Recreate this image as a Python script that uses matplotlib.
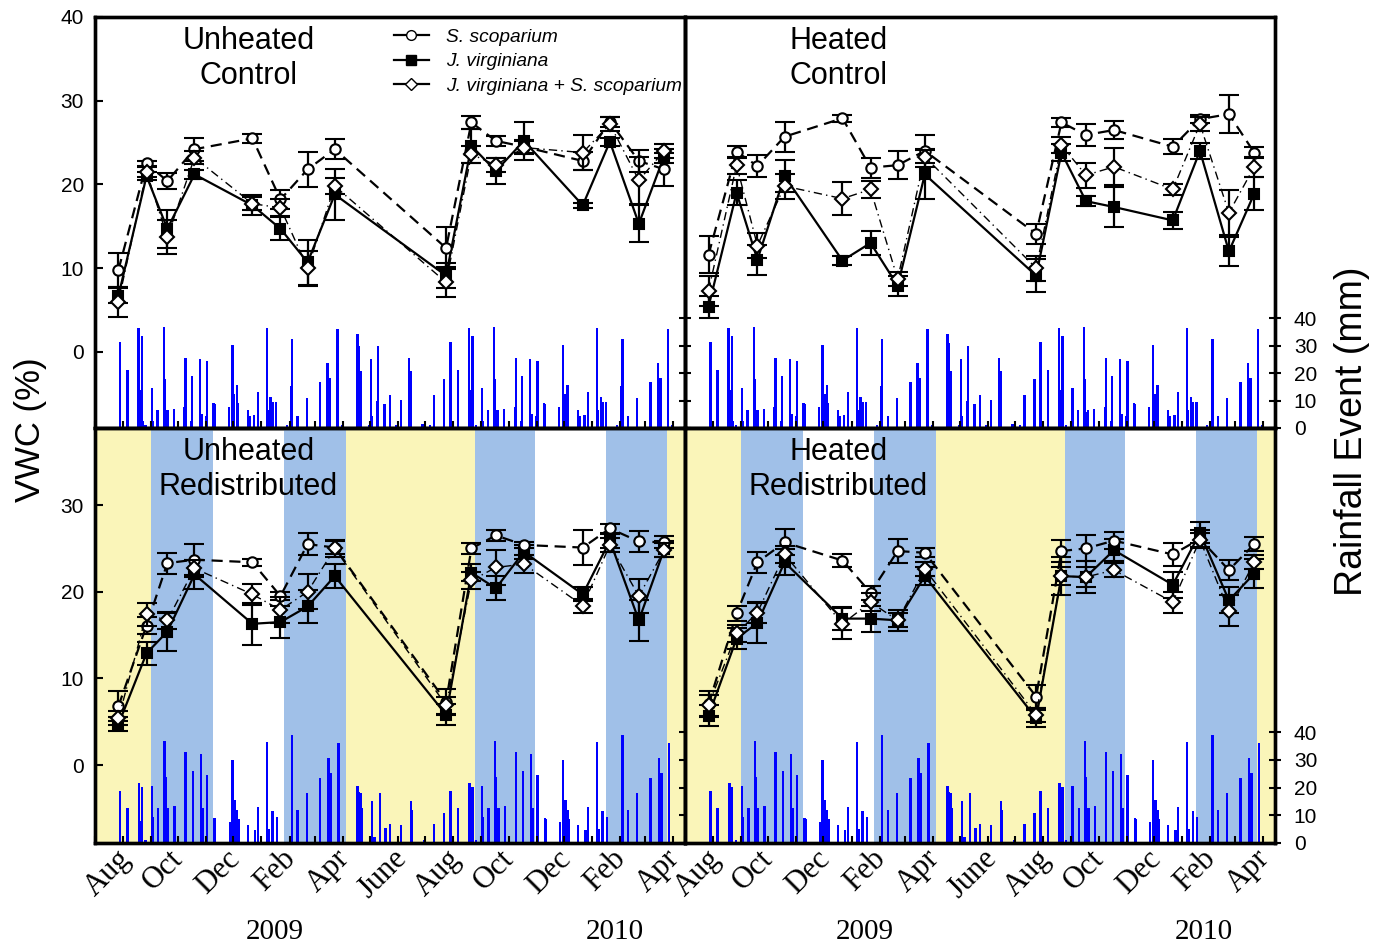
import numpy as np
import matplotlib.pyplot as plt
import matplotlib.dates as mdates
import matplotlib.transforms as mtransforms
from matplotlib.lines import Line2D
from matplotlib.ticker import FuncFormatter

plt.rcParams['font.family'] = ['Liberation Sans', 'DejaVu Sans']

# sampling dates (VWC measurements)
sample_dates = np.array(['2008-07-27', '2008-08-27', '2008-09-19', '2008-10-19', '2008-12-22',
                         '2009-01-22', '2009-02-21', '2009-03-23', '2009-07-24', '2009-08-21',
                         '2009-09-17', '2009-10-18', '2009-12-22', '2010-01-21', '2010-02-22',
                         '2010-03-22'], dtype='datetime64[D]')

# unheated control
uc_ss = [9.8, 22.5, 20.4, 24.2, 25.5, 18.2, 21.8, 24.2, 12.4, 27.4, 25.2, 24.5, 22.8, 27.5, 22.8, 21.8]
uc_ss_se = [2.0, 0.3, 1.0, 1.4, 0.5, 1.1, 2.1, 1.2, 2.5, 0.8, 0.6, 0.8, 1.1, 0.6, 1.3, 2.0]
uc_jv = [6.7, 21.0, 14.7, 21.2, 17.5, 14.7, 10.7, 18.8, 9.1, 24.6, 21.6, 25.2, 17.5, 25.1, 15.3, 23.4]
uc_jv_se = [0.9, 0.5, 2.3, 0.5, 1.2, 1.4, 2.7, 3.1, 1.5, 2.0, 1.6, 2.3, 0.3, 0.5, 2.2, 0.8]
uc_mix = [6.0, 21.5, 13.7, 23.2, 17.7, 17.2, 10.0, 19.8, 8.3, 23.6, 22.3, 24.4, 23.8, 27.2, 20.5, 24.0]
uc_mix_se = [1.8, 0.6, 2.0, 0.8, 0.8, 1.0, 2.1, 1.0, 1.8, 1.0, 0.8, 0.8, 2.1, 0.8, 2.8, 0.8]

# heated control
hc_ss = [11.6, 23.9, 22.2, 25.7, 27.9, 22.0, 22.3, 24.0, 14.1, 27.4, 25.9, 26.5, 24.5, 27.8, 28.4, 23.8]
hc_ss_se = [2.2, 0.7, 1.3, 1.8, 0.4, 1.2, 1.7, 1.9, 1.2, 0.5, 1.3, 1.1, 0.9, 0.5, 2.3, 0.7]
hc_jv = [5.4, 19.0, 11.0, 21.0, 10.9, 13.0, 7.9, 21.2, 9.1, 23.8, 18.0, 17.3, 15.7, 24.0, 12.0, 18.9]
hc_jv_se = [1.3, 1.5, 1.8, 1.9, 0.5, 1.4, 1.2, 3.0, 2.0, 1.0, 0.6, 2.4, 1.0, 1.0, 1.7, 2.0]
hc_mix = [7.3, 22.3, 12.7, 19.8, 18.3, 19.4, 8.7, 23.3, 10.0, 24.7, 21.1, 22.1, 19.4, 27.2, 16.6, 22.1]
hc_mix_se = [1.8, 1.0, 1.5, 1.5, 2.0, 1.0, 0.8, 0.8, 1.5, 1.0, 1.5, 2.2, 0.7, 0.8, 2.7, 1.2]

# unheated redistributed
ur_ss = [6.8, 16.1, 23.3, 23.7, 23.4, 19.5, 25.5, 25.1, 7.3, 25.0, 26.5, 25.4, 25.1, 27.3, 25.8, 25.7]
ur_ss_se = [1.7, 1.0, 1.2, 1.8, 0.4, 0.5, 1.3, 0.8, 1.5, 0.6, 0.6, 0.3, 2.0, 0.5, 1.2, 0.7]
ur_jv = [4.7, 12.9, 15.4, 22.0, 16.3, 16.5, 18.3, 21.8, 5.8, 22.2, 20.4, 24.6, 19.7, 25.9, 16.7, 24.9]
ur_jv_se = [0.8, 1.3, 2.2, 1.7, 2.4, 1.8, 1.9, 1.4, 1.2, 1.0, 1.4, 0.8, 0.8, 0.8, 2.4, 0.9]
ur_mix = [5.4, 17.4, 16.7, 22.7, 19.7, 17.9, 20.0, 25.0, 6.9, 21.3, 22.8, 23.2, 18.4, 25.4, 19.5, 24.8]
ur_mix_se = [0.8, 1.3, 1.0, 1.0, 1.2, 1.5, 2.0, 1.0, 1.0, 1.0, 2.0, 1.0, 0.8, 0.8, 2.0, 0.8]

# heated redistributed
hr_ss = [7.0, 17.5, 23.4, 25.7, 23.6, 19.9, 24.7, 24.5, 7.9, 24.7, 25.0, 25.9, 24.3, 26.1, 22.5, 25.5]
hr_ss_se = [1.5, 0.9, 1.2, 1.5, 0.8, 0.8, 1.4, 0.5, 1.3, 1.3, 1.5, 1.0, 1.3, 1.0, 1.2, 0.8]
hr_jv = [5.7, 14.6, 16.4, 23.4, 16.9, 16.9, 16.7, 21.8, 5.4, 21.8, 21.7, 24.8, 20.8, 26.8, 19.0, 22.1]
hr_jv_se = [1.2, 1.2, 2.3, 1.5, 1.3, 1.5, 1.2, 1.0, 1.0, 2.2, 1.8, 1.3, 1.5, 1.2, 1.5, 1.7]
hr_mix = [6.9, 15.2, 17.6, 24.3, 16.3, 18.8, 16.7, 22.6, 5.8, 21.8, 21.7, 22.5, 18.8, 26.0, 17.8, 23.4]
hr_mix_se = [1.2, 1.0, 1.2, 1.0, 1.8, 1.0, 0.8, 0.8, 0.8, 1.0, 1.2, 0.8, 1.2, 0.8, 1.8, 0.8]

# control rainfall events (days since 2008-07-01, mm)
ctrl_day = [28, 36, 48, 50, 52, 53, 56, 63, 64, 69, 76, 77, 79, 80, 87, 99, 100, 106, 107, 116,
            118, 123, 124, 131, 132, 148, 152, 154, 157, 158, 169, 171, 176, 180, 190, 191, 194, 196,
            200, 212, 217, 218, 224, 234, 243, 249, 257, 260, 268, 273, 290, 291, 292, 294, 303, 305,
            306, 312, 313, 317, 320, 322, 326, 333, 338, 345, 347, 349, 362, 370, 375, 386,
            393, 401, 413, 415, 417, 418, 421, 428, 429, 434, 441, 442, 444, 445, 452, 464, 465, 471,
            472, 481, 483, 488, 489, 496, 497, 513, 517, 519, 522, 523, 534, 536, 541, 545, 555, 556,
            559, 561, 565, 577, 582, 583, 589, 599, 608, 614, 622, 625, 633, 638]
ctrl_mm = [31.4, 21.3, 36.5, 14, 33.5, 2.4, 1, 14.5, 2.5, 6.6, 36.8, 18, 6, 6.5, 7, 7.8, 25.6, 2.5, 18.8, 25,
           5, 4.5, 24.5, 9.3, 8.7, 7.5, 30.2, 12.3, 15.6, 9, 6.7, 4.5, 4.8, 13.1, 36.6, 6.6, 11.3, 9.5,
           9.6, 1, 15.3, 32.4, 4.5, 11, 1, 16.7, 23.9, 18.2, 36.2, 1, 34.2, 31, 30, 20.7, 1, 25.1,
           4.5, 9.8, 29.8, 0.5, 8.6, 0.5, 11.9, 1, 10.4, 0.5, 25.6, 20.7, 1.5, 1, 12, 18,
           31.4, 21.3, 36.5, 14, 33.5, 2.4, 1, 14.5, 2.5, 6.6, 36.8, 18, 6, 6.5, 7, 7.8, 25.6, 2.5,
           18.8, 25, 5, 4.5, 24.5, 9.3, 8.7, 7.5, 30.2, 12.3, 15.6, 9, 6.7, 4.5, 4.8, 13.1, 36.6, 6.6,
           11.3, 9.5, 9.6, 1, 15.3, 32.4, 4.5, 11, 1, 16.7, 23.9, 18.2, 36.2, 1]

# redistributed rainfall events (days since 2008-07-01, mm)
redist_day = [28, 36, 49, 50, 52, 56, 63, 64, 70, 77, 78, 81, 88, 100, 108, 117, 119, 124, 132, 133,
              149, 152, 155, 157, 159, 169, 177, 180, 190, 192, 196, 201, 218, 224, 234, 249, 258, 261,
              269, 290, 292, 294, 295, 306, 309, 315, 321, 326, 338, 349, 350, 364, 375, 386,
              393, 401, 414, 415, 417, 421, 428, 429, 435, 442, 443, 446, 453, 465, 473, 482, 484, 489,
              497, 498, 514, 517, 520, 522, 524, 534, 542, 545, 555, 557, 561, 566, 583, 589, 599, 614,
              623, 626, 634]
redist_mm = [18.8, 12.8, 21.8, 8, 20.3, 1.2, 20.7, 9.5, 12.5, 36.7, 23.9, 12.7, 13.3, 32.9, 26, 32.3, 12.7, 24.5, 9.2, 8.5,
             7.7, 30, 15.5, 12, 8.8, 6.5, 4.7, 13, 36.5, 5, 11.4, 9.5, 39, 12, 18, 23.6, 30.9, 25.3,
             36.1, 20.7, 18.5, 18, 12.5, 15.1, 2, 18, 5.3, 6.8, 6.5, 15.2, 12, 1, 7, 11,
             18.8, 12.8, 21.8, 8, 20.3, 1.2, 20.7, 9.5, 12.5, 36.7, 23.9, 12.7, 13.3, 32.9, 26, 32.3, 12.7, 24.5,
             9.2, 8.5, 7.7, 30, 15.5, 12, 8.8, 6.5, 4.7, 13, 36.5, 5, 11.4, 9.5, 39, 12,
             18, 23.6, 30.9, 25.3, 36.1]

# seasons shaded in the redistributed panels
dry_spans = [('2008-06-01', '2008-09-01'), ('2009-04-04', '2009-08-25'), ('2010-03-25', '2010-05-01')]
wet_spans = [('2008-09-01', '2008-11-08'), ('2009-01-26', '2009-04-04'),
             ('2009-08-25', '2009-10-30'), ('2010-01-17', '2010-03-25')]

month_names = {1: 'Jan', 2: 'Feb', 3: 'Mar', 4: 'Apr', 5: 'May', 6: 'June', 7: 'Jul',
               8: 'Aug', 9: 'Sep', 10: 'Oct', 11: 'Nov', 12: 'Dec'}

start = np.datetime64('2008-07-01')


def month_fmt(x, pos):
    return month_names[mdates.num2date(x).month]


def draw_panel(rect, title, ss, ss_se, jv, jv_se, mix, mix_se, rday, rmm, shaded, left, bottom):
    ax = fig.add_axes(rect)
    rax = ax.twinx()
    ax.set_zorder(rax.get_zorder() + 1)
    ax.patch.set_visible(False)

    if shaded:
        for a, b in dry_spans:
            rax.axvspan(np.datetime64(a), np.datetime64(b), color='#FAF5B9', lw=0, zorder=0)
        for a, b in wet_spans:
            rax.axvspan(np.datetime64(a), np.datetime64(b), color='#A0C0E8', lw=0, zorder=0)
    rdates = start + np.array(rday).astype('timedelta64[D]')
    rax.bar(rdates, rmm, width=2.6, color='#0000FF', lw=0, zorder=2)
    rax.set_ylim(0, 150)
    rax.set_yticks([0, 10, 20, 30, 40])
    rax.tick_params(axis='y', direction='inout', length=9, width=1.5, labelsize=15,
                    pad=9, labelright=not left)

    kw = dict(color='black', capsize=7, elinewidth=1.6, capthick=1.6, ms=7.5, mec='black', mew=1.5)
    ax.errorbar(sample_dates, jv, yerr=jv_se, fmt='s-', mfc='black', lw=1.6, zorder=3, **kw)
    ax.errorbar(sample_dates, ss, yerr=ss_se, fmt='o', ls=(0, (5, 3)), mfc='white', lw=1.6, zorder=4, **kw)
    ax.errorbar(sample_dates, mix, yerr=mix_se, fmt='D', ls=(0, (6, 3, 1, 3)), mfc='white', lw=1.0,
                zorder=5, **dict(kw, ms=7))

    ax.set_xlim(start, np.datetime64('2010-04-14'))
    if bottom:
        ax.set_ylim(-9.0, 38.9)
        ax.set_yticks([0, 10, 20, 30])
    else:
        ax.set_ylim(-9.1, 40)
        ax.set_yticks([0, 10, 20, 30, 40])
    ax.xaxis.set_major_locator(mdates.MonthLocator(bymonth=(2, 4, 6, 8, 10, 12)))
    ax.xaxis.set_minor_locator(mdates.MonthLocator())
    ax.xaxis.set_major_formatter(FuncFormatter(month_fmt))
    ax.tick_params(axis='x', which='both', direction='in', length=5, width=1.5,
                   labelbottom=bottom, labelsize=22, labelrotation=45, pad=1,
                   labelfontfamily='Liberation Serif')
    if bottom:
        shift = mtransforms.ScaledTranslation(-0.15, 0, fig.dpi_scale_trans)
        for lbl in ax.get_xticklabels():
            lbl.set_transform(lbl.get_transform() + shift)
    if left:
        ax.tick_params(axis='y', direction='in', length=6, width=1.5, labelsize=15, pad=8)
    else:
        ax.tick_params(axis='y', left=False, labelleft=False)

    for a in (ax, rax):
        for s in a.spines.values():
            s.set_linewidth(2.4)

    ax.text(0.26, 0.978, title, transform=ax.transAxes, ha='center', va='top',
            fontsize=22, linespacing=1.2)
    return ax


fig = plt.figure(figsize=(13.78, 9.49), dpi=100)

ax_uc = draw_panel([0.0689, 0.549, 0.4282, 0.4331], 'Unheated\nControl',
                   uc_ss, uc_ss_se, uc_jv, uc_jv_se, uc_mix, uc_mix_se,
                   ctrl_day, ctrl_mm, False, True, False)
draw_panel([0.4971, 0.549, 0.4282, 0.4331], 'Heated\nControl',
           hc_ss, hc_ss_se, hc_jv, hc_jv_se, hc_mix, hc_mix_se,
           ctrl_day, ctrl_mm, False, False, False)
draw_panel([0.0689, 0.1117, 0.4282, 0.4373], 'Unheated\nRedistributed',
           ur_ss, ur_ss_se, ur_jv, ur_jv_se, ur_mix, ur_mix_se,
           redist_day, redist_mm, True, True, True)
draw_panel([0.4971, 0.1117, 0.4282, 0.4373], 'Heated\nRedistributed',
           hr_ss, hr_ss_se, hr_jv, hr_jv_se, hr_mix, hr_mix_se,
           redist_day, redist_mm, True, False, True)

handles = [
    Line2D([], [], color='black', lw=1.6, marker='o', mfc='white', mec='black', ms=7),
    Line2D([], [], color='black', lw=1.6, marker='s', mfc='black', mec='black', ms=7),
    Line2D([], [], color='black', lw=1.6, marker='D', mfc='white', mec='black', ms=6.5),
]
ax_uc.legend(handles, ['S. scoparium', 'J. virginiana', 'J. virginiana + S. scoparium'],
             loc='upper left', bbox_to_anchor=(0.507, 0.972), frameon=False,
             prop={'style': 'italic', 'size': 13.8}, handlelength=1.8, handletextpad=0.9,
             labelspacing=0.36, borderaxespad=0, borderpad=0)

fig.text(0.022, 0.547, 'VWC (%)', rotation=90, ha='center', va='center', fontsize=25)
fig.text(0.981, 0.546, 'Rainfall Event (mm)', rotation=90, ha='center', va='center', fontsize=27)

for xp, yr in [(275, '2009'), (615, '2010'), (865, '2009'), (1204, '2010')]:
    fig.text(xp / 1378, 1 - 932 / 949, yr, ha='center', va='center', fontsize=21,
             family='Liberation Serif')

fig.savefig('out.png', dpi=100)
